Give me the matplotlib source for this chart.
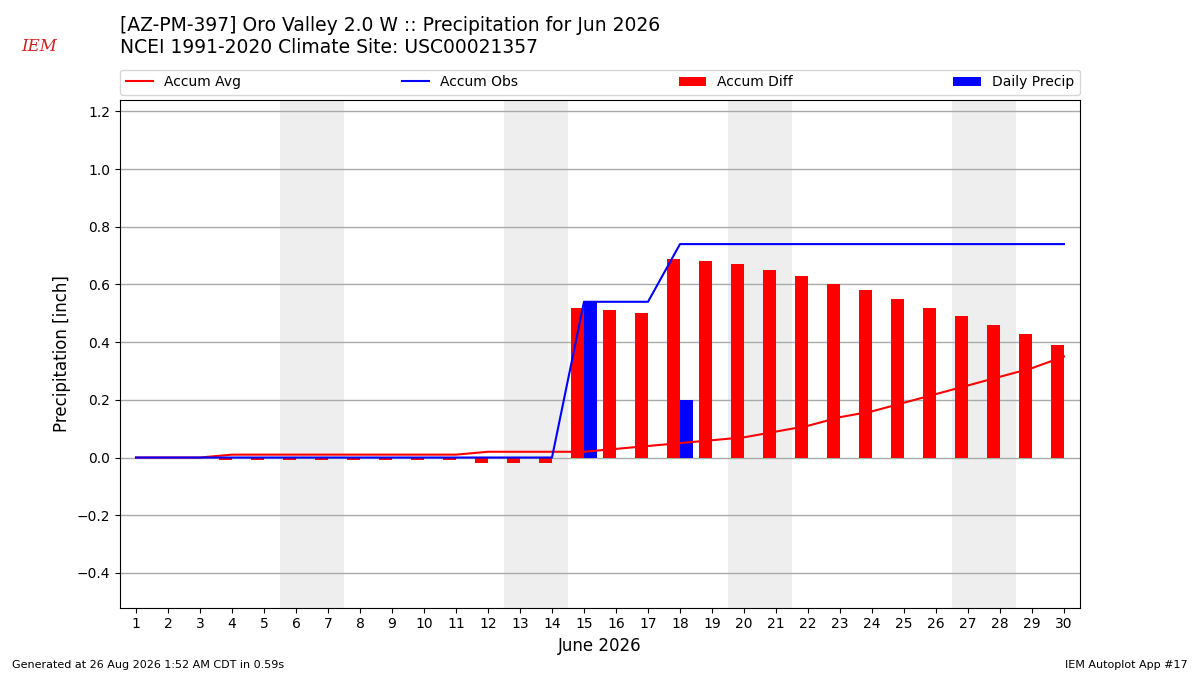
import matplotlib
matplotlib.use("Agg")
import matplotlib.pyplot as plt
import numpy as np

days = list(range(1, 31))
accum_avg = [0.00, 0.00, 0.00, 0.01, 0.01, 0.01, 0.01, 0.01, 0.01, 0.01,
             0.01, 0.02, 0.02, 0.02, 0.02, 0.03, 0.04, 0.05, 0.06, 0.07,
             0.09, 0.11, 0.14, 0.16, 0.19, 0.22, 0.25, 0.28, 0.31, 0.35]
daily_precip = [0.0] * 14 + [0.54, 0.0, 0.0, 0.20] + [0.0] * 12
accum_obs = list(np.cumsum(daily_precip))
accum_diff = [o - a for o, a in zip(accum_obs, accum_avg)]
weekends = [6, 13, 20, 27]

fig = plt.figure(figsize=(12, 6.75), dpi=100)
ax = fig.add_axes([0.1, 0.1, 0.8, 0.752])

for w in weekends:
    ax.axvspan(w - 0.5, w + 1.5, color="#eeeeee", zorder=0, lw=0)

ax.bar(days, accum_diff, width=-0.4, align="edge", color="red", label="Accum Diff", zorder=2)
ax.bar(days, daily_precip, width=0.4, align="edge", color="blue", label="Daily Precip", zorder=2)
ax.plot(days, accum_avg, color="red", lw=1.5, label="Accum Avg", zorder=3)
ax.plot(days, accum_obs, color="blue", lw=1.5, label="Accum Obs", zorder=3)

ax.set_xlim(0.5, 30.5)
ax.set_ylim(-0.52, 1.24)
ax.set_xticks(days)
ax.set_yticks(np.arange(-0.4, 1.21, 0.2))
ax.yaxis.grid(True, color="#aaaaaa", lw=1)
ax.set_axisbelow(True)
ax.tick_params(labelsize=10)
ax.set_ylabel("Precipitation [inch]", fontsize=12)
ax.set_xlabel("June 2026", fontsize=12)

handles, labels = ax.get_legend_handles_labels()
order = [labels.index(l) for l in ["Accum Avg", "Accum Obs", "Accum Diff", "Daily Precip"]]
ax.legend([handles[i] for i in order], [labels[i] for i in order],
          loc="lower left", bbox_to_anchor=(0, 1.01, 1, 0.05), mode="expand",
          ncol=4, fontsize=10, borderaxespad=0)

fig.text(0.1, 0.977, "[AZ-PM-397] Oro Valley 2.0 W :: Precipitation for Jun 2026",
         fontsize=13.5, va="top")
fig.text(0.1, 0.944, "NCEI 1991-2020 Climate Site: USC00021357", fontsize=13.5, va="top")
fig.text(0.01, 0.01, "Generated at 26 Aug 2026 1:52 AM CDT in 0.59s", fontsize=8)
fig.text(0.99, 0.01, "IEM Autoplot App #17", fontsize=8, ha="right")
fig.text(0.018, 0.925, "IEM", fontsize=12, color="#cc2222", family="DejaVu Serif",
         style="italic")

fig.savefig("out.png", dpi=100)
